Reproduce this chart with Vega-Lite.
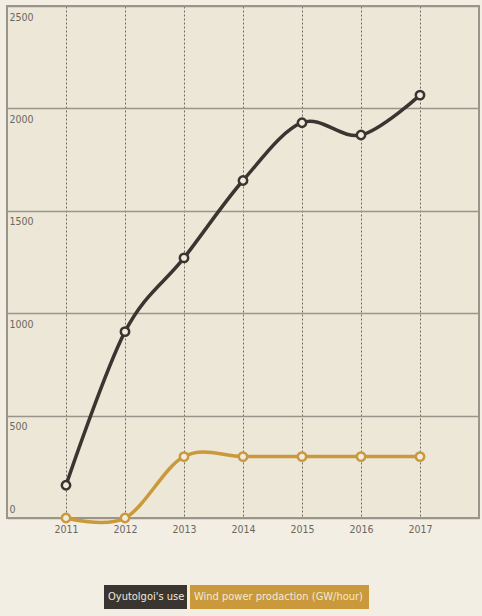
{
  "$schema": "https://vega.github.io/schema/vega-lite/v6.json",
  "width": 472,
  "height": 512,
  "autosize": "none",
  "padding": {"left": 7, "top": 6, "right": 3, "bottom": 98},
  "background": "#f3eee3",
  "config": {
    "view": {"fill": "#ede7d8", "stroke": "#9a958b", "strokeWidth": 2},
    "font": "DejaVu Sans Condensed, sans-serif"
  },
  "data": {
    "values": [
      {"year": 2011, "value": 160, "series": "Oyutolgoi's use"},
      {"year": 2012, "value": 910, "series": "Oyutolgoi's use"},
      {"year": 2013, "value": 1270, "series": "Oyutolgoi's use"},
      {"year": 2014, "value": 1648, "series": "Oyutolgoi's use"},
      {"year": 2015, "value": 1930, "series": "Oyutolgoi's use"},
      {"year": 2016, "value": 1870, "series": "Oyutolgoi's use"},
      {"year": 2017, "value": 2065, "series": "Oyutolgoi's use"},
      {"year": 2011, "value": 0, "series": "Wind power prodaction (GW/hour)"},
      {"year": 2012, "value": 0, "series": "Wind power prodaction (GW/hour)"},
      {"year": 2013, "value": 300, "series": "Wind power prodaction (GW/hour)"},
      {"year": 2014, "value": 300, "series": "Wind power prodaction (GW/hour)"},
      {"year": 2015, "value": 300, "series": "Wind power prodaction (GW/hour)"},
      {"year": 2016, "value": 300, "series": "Wind power prodaction (GW/hour)"},
      {"year": 2017, "value": 300, "series": "Wind power prodaction (GW/hour)"}
    ]
  },
  "encoding": {
    "x": {
      "field": "year", "type": "quantitative",
      "scale": {"domain": [2010, 2018], "nice": false, "zero": false},
      "axis": {
        "title": null, "values": [2011, 2012, 2013, 2014, 2015, 2016, 2017],
        "format": "d", "domain": false, "ticks": false, "tickSize": 0,
        "labelPadding": 6, "labelFontSize": 10.5, "labelColor": "#6b675f",
        "labelFlush": false, "labelOverlap": false,
        "grid": true, "gridColor": "#6e6a63", "gridDash": [2, 2], "gridWidth": 1
      }
    },
    "y": {
      "field": "value", "type": "quantitative",
      "scale": {"domain": [0, 2500], "nice": false},
      "axis": {
        "title": null, "values": [0, 500, 1000, 1500, 2000, 2500],
        "format": "d",
        "domain": false, "ticks": false, "tickSize": 0,
        "labelAlign": "left", "labelPadding": -2,
        "labelBaseline": {"condition": {"test": "datum.value == 0", "value": "bottom"}, "value": "top"},
        "labelOffset": {"condition": {"test": "datum.value == 0", "value": -4}, "value": 6},
        "labelFontSize": 10.5, "labelColor": "#6b675f",
        "labelFlush": false, "labelOverlap": false,
        "grid": true, "gridColor": "#9a958b", "gridWidth": 1.5
      }
    },
    "color": {
      "field": "series", "type": "nominal",
      "scale": {
        "domain": ["Oyutolgoi's use", "Wind power prodaction (GW/hour)"],
        "range": ["#3a3531", "#c9993c"]
      },
      "legend": {
        "title": null, "orient": "none", "direction": "horizontal",
        "legendX": 97, "legendY": 581,
        "symbolSize": 400, "symbolOffset": -10, "labelOffset": -6,
        "columnPadding": 3, "labelFontSize": 11, "labelColor": "#f2e9d6",
        "labelLimit": 300,
        "encode": {
          "symbols": {
            "update": {
              "shape": {"signal": "datum.index == 0 ? 'M0,-1.2H8.3V1.2H0Z' : 'M0,-1.2H17.9V1.2H0Z'"},
              "fill": {"scale": "color", "field": "value"},
              "stroke": {"scale": "color", "field": "value"},
              "strokeWidth": {"value": 0},
              "opacity": {"value": 1}
            }
          }
        }
      }
    }
  },
  "layer": [
    {
      "mark": {"type": "line", "interpolate": "cardinal", "strokeWidth": 3.5}
    },
    {
      "mark": {"type": "point", "filled": false, "fill": "#f1ebdd", "fillOpacity": 1, "opacity": 1, "strokeWidth": 2.5, "size": 70}
    }
  ]
}
